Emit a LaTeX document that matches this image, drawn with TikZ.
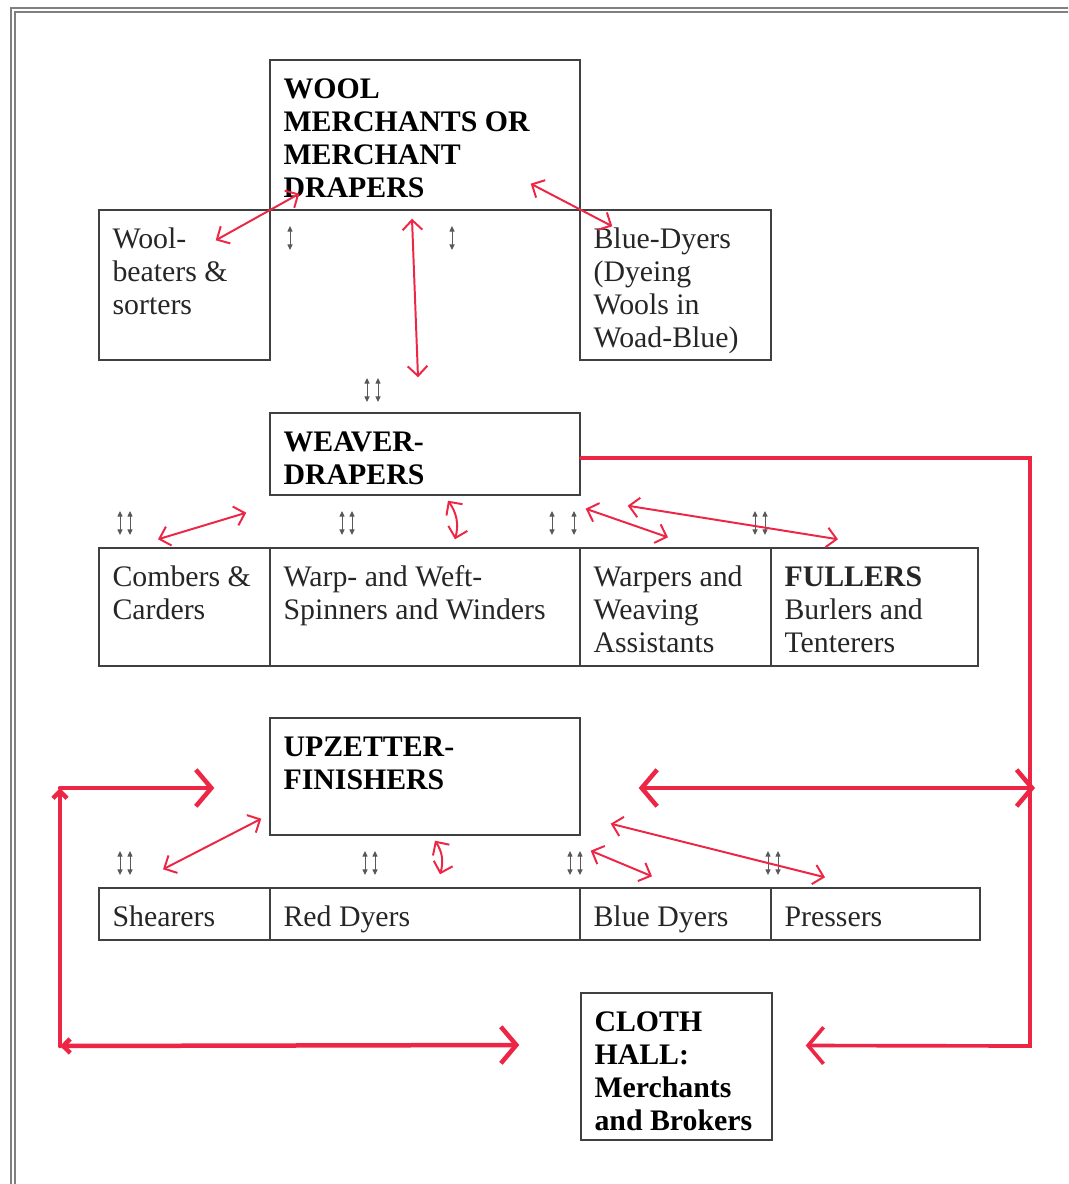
\documentclass[tikz,border=0pt]{standalone}
\usepackage{fontspec}
\setmainfont{Liberation Serif}
\usetikzlibrary{arrows.meta}
\usetikzlibrary{positioning,fit,calc}
\definecolor{pen}{RGB}{236,38,68}
\tikzstyle{trade}=[draw=black!75,line width=1pt,inner sep=0pt]
\tikzstyle{tradetext}=[anchor=north west,inner sep=0pt,align=left,text=black!85,font=\fontsize{21.2}{23.5}\selectfont]
\tikzstyle{headtext}=[tradetext,text=black,font=\fontsize{21.2}{23.5}\selectfont\bfseries]
\tikzstyle{link}=[draw=pen,line width=1.4pt,>={Straight Barb[length=7pt,width=14pt]},<->]
\tikzstyle{biglink}=[draw=pen,line width=3.2pt,line cap=round,>={Straight Barb[length=11pt,width=26pt]}]
\tikzset{pics/updown/.style={code={\draw[black!65,line width=0.7pt,{Triangle[length=4pt,width=3.6pt]}-{Triangle[length=4pt,width=3.6pt]}] (0,-12) -- (0,12);}}}

\begin{document}
\begin{tikzpicture}[x=0.025cm,y=-0.025cm]
    \useasboundingbox (0,0) rectangle (1068,1184);
    \clip (0,0) rectangle (1068,1184);
    \draw[black!50,line width=0.8pt,double=white,double distance=2pt] (13,10) rectangle (1200,1300);

    % First we draw the boxes and their texts
    \foreach \xl/\yt/\xr/\yb/\name/\st/\txt in {
        270/60/580/210/wool/headtext/{WOOL\\MERCHANTS OR\\MERCHANT\\DRAPERS},
        99/210/270/360/beaters/tradetext/{Wool-\\beaters \&\\sorters},
        580/210/771/360/woad/tradetext/{Blue-Dyers\\(Dyeing\\Wools in\\Woad-Blue)},
        270/413/580/495/weaver/headtext/{WEAVER-\\DRAPERS},
        99/548/270/666/combers/tradetext/{Combers \&\\Carders},
        270/548/580/666/spinners/tradetext/{Warp- and Weft-\\Spinners and Winders},
        580/548/771/666/warpers/tradetext/{Warpers and\\Weaving\\Assistants},
        771/548/978/666/fullers/tradetext/{\textbf{FULLERS}\\Burlers and\\Tenterers},
        270/718/580/835/upz/headtext/{UPZETTER-\\FINISHERS},
        99/888/270/940/shearers/tradetext/{Shearers},
        270/888/580/940/reddyers/tradetext/{Red Dyers},
        580/888/771/940/bluedyers/tradetext/{Blue Dyers},
        771/888/980/940/pressers/tradetext/{Pressers},
        581/993/772/1140/cloth/headtext/{CLOTH\\HALL:\\Merchants\\and Brokers}}
    {
        \node[trade,fit={(\xl,\yt) (\xr,\yb)}] (\name) {};
        \node[\st] (\name-t) at ([shift={(14,18)}]\name.north west) {\vphantom{Wd}\txt};
    }

    % small up-down marks
    \foreach \x/\y in {290/238, 452/238, 367/390, 378/390,
                       120/523, 130/523, 342/523, 352/523, 552/523, 574/523, 755/523, 765/523,
                       120/863, 130/863, 365/863, 375/863, 570/863, 580/863, 768/863, 778/863}
        \pic at (\x,\y) {updown};

    % Connect boxes with red arrows
    \draw[link] ([shift={(-55,31)}]beaters.north east) -- ([shift={(30,-17)}]wool.south west);
    \draw[link] ([shift={(-50,-27)}]wool.south east) -- ([shift={(33,17)}]woad.north west);
    \draw[link] ([shift={(-13,8)}]wool.south) -- ([shift={(-7,-35)}]weaver.north);

    \draw[link] ([shift={(-26.5,-8)}]combers.north) -- ([shift={(-23,17)}]weaver.south west);
    \draw[link] ([shift={(23,5)}]weaver.south) to[bend left=25] ([shift={(30,-8)}]spinners.north);
    \draw[link] ([shift={(5,13)}]weaver.south east) -- ([shift={(-7.5,-10)}]warpers.north);
    \draw[link] ([shift={(47,10)}]weaver.south east) -- ([shift={(-36.5,-8)}]fullers.north);

    \draw[link] ([shift={(-21.5,-18)}]shearers.north) -- ([shift={(-8,-17)}]upz.south west);
    \draw[link] ([shift={(10,5)}]upz.south) to[bend left=25] ([shift={(15,-13)}]reddyers.north);
    \draw[link] ([shift={(10,15)}]upz.south east) -- ([shift={(-23.5,-11)}]bluedyers.north);
    \draw[link] ([shift={(30,-12)}]upz.south east) -- ([shift={(-50.5,-10)}]pressers.north);

    % the big loops to the cloth hall
    \coordinate (rt) at (1030,458);
    \coordinate (rm) at (1035,788);
    \coordinate (rb) at (1030,1046);
    \coordinate (lt) at (60,788);
    \coordinate (lb) at (60,1046);
    \draw[biglink,line width=2.6pt,->] (weaver.east |- rt) -- (rt) -- (rb) -- ([shift={(33,-21)}]cloth.east);
    \draw[biglink,<->] ([shift={(58,11.5)}]upz.east) -- (rm);
    \draw[biglink,->] (lt) -- ([shift={(-55,11.5)}]upz.west);
    \draw[biglink,-{Straight Barb[length=5pt,width=10pt]}] (lb) -- (lt);
    \draw[biglink,{Straight Barb[length=5pt,width=10pt]}->] (lb) -- ([shift={(-61,-21.5)}]cloth.west);
\end{tikzpicture}
\end{document}
